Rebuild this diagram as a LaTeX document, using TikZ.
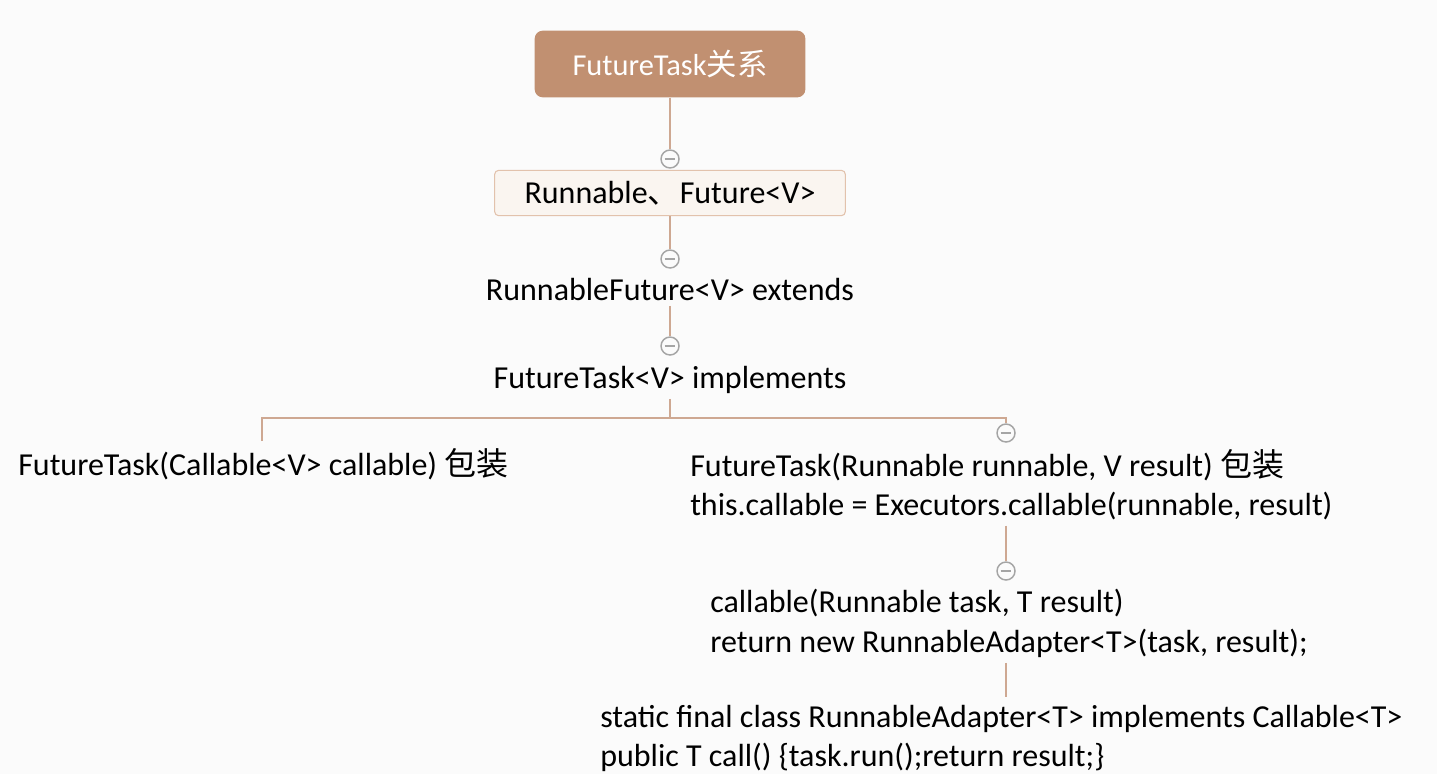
\documentclass[tikz,border=0pt]{standalone}
\usepackage{fontspec}
\setmainfont{Carlito}
\newfontfamily\cjk{Noto Sans CJK SC}
\definecolor{rootbrown}{RGB}{193,144,113}
\definecolor{linkbrown}{RGB}{206,168,146}
\definecolor{ifacefill}{RGB}{250,245,240}
\definecolor{ifaceedge}{RGB}{226,194,172}
\definecolor{togglegray}{RGB}{165,165,165}
\definecolor{bggray}{RGB}{251,251,251}
\tikzset{
  link/.style={linkbrown, line width=1pt},
  codetext/.style={inner sep=0pt, font=\fontsize{24}{29.5}\selectfont, align=left},
  rootbox/.style={fill=rootbrown, rounded corners=6pt, minimum width=203pt,
    minimum height=50pt, text=white, font=\fontsize{22.8}{27}\selectfont},
  ifacebox/.style={fill=ifacefill, draw=ifaceedge, line width=0.8pt, rounded corners=3pt,
    minimum width=263pt, minimum height=34pt, font=\fontsize{24}{29.5}\selectfont},
  toggle/.style={circle, draw=togglegray, fill=bggray, line width=1.1pt, minimum size=13.5pt,
    inner sep=0pt,
    path picture={\draw[togglegray, line width=1.1pt]
      ([xshift=-4pt]path picture bounding box.center) --
      ([xshift=4pt]path picture bounding box.center);}}
}
\begin{document}
\begin{tikzpicture}[x=0.75pt, y=-0.75pt]
  \fill[bggray] (0,0) rectangle (1437,774);
  \useasboundingbox (0,0) rectangle (1437,774);

  % boxes and texts
  \node[rootbox] (root) at (670,64) {FutureTask{\cjk 关系}};
  \node[ifacebox] (iface) at (670,193) {Runnable{\cjk 、}Future<V>};
  \node[codetext, anchor=base] (ext) at (670,300) {RunnableFuture<V> extends};
  \node[codetext, anchor=base] (impl) at (670,388) {FutureTask<V> implements};
  \node[codetext, anchor=base west] (wrapA) at (18,475) {FutureTask(Callable<V> callable) {\cjk 包装}};
  \node[codetext, anchor=north west] (wrapB) at (690,449)
    {FutureTask(Runnable runnable, V result) {\cjk 包装}\\
     this.callable = Executors.callable(runnable, result)};
  \node[codetext, anchor=north west] (callfn) at (710,589)
    {callable(Runnable task, T result)\\
     return new RunnableAdapter<T>(task, result);};
  \node[codetext, anchor=north west] (adapter) at (600,705)
    {static final class RunnableAdapter<T> implements Callable<T>\\
     public T call() \{task.run();return result;\}};

  % collapse marks
  \node[toggle] (t1) at (670,159) {};
  \node[toggle] (t2) at (670,259) {};
  \node[toggle] (t3) at (670,346) {};
  \node[toggle] (t4) at (1006,433) {};
  \node[toggle] (t5) at (1006,571) {};

  \coordinate (fork) at (670,418);
  \coordinate (forkL) at (262,418);
  \coordinate (forkR) at (1006,418);

  % connectors
  \draw[link] (root) -- (t1);
  \draw[link] (iface) -- (t2);
  \draw[link] ([yshift=-4pt]ext.south) -- (t3);
  \draw[link] ([yshift=-4pt]impl.south) -- (fork);
  \draw[link] ([yshift=5pt]wrapA.north -| forkL) -- (forkL) -- (forkR) -- (t4);
  \draw[link] ([yshift=-4pt]wrapB.south -| t5) -- (t5);
  \draw[link] ([yshift=-4pt]callfn.south -| t5) -- ([yshift=6pt]adapter.north -| t5);
\end{tikzpicture}
\end{document}
